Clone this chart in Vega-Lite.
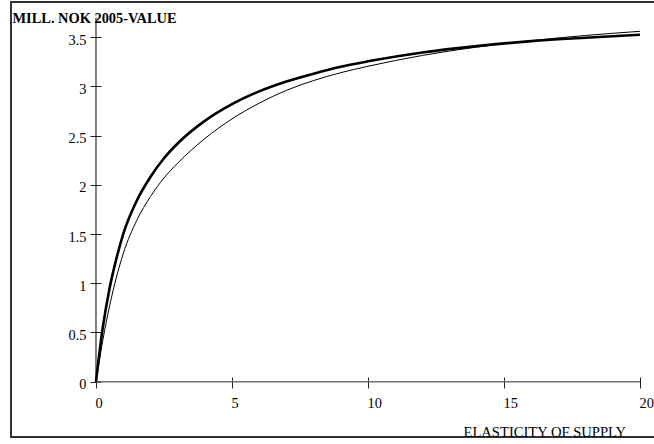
{
  "$schema": "https://vega.github.io/schema/vega-lite/v6.json",
  "width": 644,
  "height": 435,
  "autosize": {"type": "none"},
  "padding": {"left": 11, "top": 2, "right": -1, "bottom": 7},
  "background": "white",
  "config": {
    "view": {"stroke": "#333333", "strokeWidth": 2},
    "font": "Liberation Serif"
  },
  "datasets": {
    "curves": [
      {"x": 0, "y": 0, "s": "thick"},
      {"x": 0.25, "y": 0.55, "s": "thick"},
      {"x": 0.5, "y": 0.95, "s": "thick"},
      {"x": 0.75, "y": 1.25, "s": "thick"},
      {"x": 1, "y": 1.5, "s": "thick"},
      {"x": 1.5, "y": 1.84, "s": "thick"},
      {"x": 2, "y": 2.08, "s": "thick"},
      {"x": 2.5, "y": 2.27, "s": "thick"},
      {"x": 3, "y": 2.42, "s": "thick"},
      {"x": 4, "y": 2.65, "s": "thick"},
      {"x": 5, "y": 2.82, "s": "thick"},
      {"x": 6, "y": 2.95, "s": "thick"},
      {"x": 7, "y": 3.05, "s": "thick"},
      {"x": 8, "y": 3.13, "s": "thick"},
      {"x": 9, "y": 3.2, "s": "thick"},
      {"x": 10, "y": 3.255, "s": "thick"},
      {"x": 12, "y": 3.345, "s": "thick"},
      {"x": 14, "y": 3.41, "s": "thick"},
      {"x": 16, "y": 3.46, "s": "thick"},
      {"x": 18, "y": 3.495, "s": "thick"},
      {"x": 20, "y": 3.525, "s": "thick"},
      {"x": 0, "y": 0, "s": "thin"},
      {"x": 0.25, "y": 0.42, "s": "thin"},
      {"x": 0.5, "y": 0.77, "s": "thin"},
      {"x": 0.75, "y": 1.06, "s": "thin"},
      {"x": 1, "y": 1.3, "s": "thin"},
      {"x": 1.5, "y": 1.64, "s": "thin"},
      {"x": 2, "y": 1.88, "s": "thin"},
      {"x": 2.5, "y": 2.07, "s": "thin"},
      {"x": 3, "y": 2.22, "s": "thin"},
      {"x": 4, "y": 2.47, "s": "thin"},
      {"x": 5, "y": 2.67, "s": "thin"},
      {"x": 6, "y": 2.83, "s": "thin"},
      {"x": 7, "y": 2.96, "s": "thin"},
      {"x": 8, "y": 3.06, "s": "thin"},
      {"x": 9, "y": 3.14, "s": "thin"},
      {"x": 10, "y": 3.205, "s": "thin"},
      {"x": 12, "y": 3.315, "s": "thin"},
      {"x": 14, "y": 3.4, "s": "thin"},
      {"x": 16, "y": 3.465, "s": "thin"},
      {"x": 18, "y": 3.518, "s": "thin"},
      {"x": 20, "y": 3.56, "s": "thin"}
    ],
    "xline": [{"x": 0, "x2": 20, "y": 0}],
    "yline": [{"x": 0, "y": 0, "y2": 3.7}]
  },
  "encoding": {
    "x": {"field": "x", "type": "quantitative", "scale": {"domain": [-3.125, 20.5518], "nice": false, "zero": false},
      "axis": {
        "orient": "bottom", "offset": -60, "values": [0, 5, 10, 15, 20], "format": "d",
        "domain": false, "grid": false, "ticks": true, "tickSize": 11, "tickColor": "#222222", "tickWidth": 1,
        "labelAlign": "left", "labelOffset": -1, "labelPadding": 8, "labelBaseline": "top",
        "labelFont": "Liberation Serif", "labelFontSize": 14.4, "labelColor": "black",
        "labelFlush": false, "labelOverlap": false, "labelBound": false,
        "title": "ELASTICITY OF SUPPLY", "titleFont": "Liberation Serif", "titleFontSize": 14.6,
        "titleFontWeight": "normal", "titleColor": "black", "titleX": 452, "titleY": 59,
        "titleAlign": "left", "titleBaseline": "alphabetic"
      }},
    "y": {"field": "y", "type": "quantitative", "scale": {"domain": [-0.562, 3.858], "nice": false, "zero": false},
      "axis": {
        "orient": "left", "offset": -90, "values": [0, 0.5, 1, 1.5, 2, 2.5, 3, 3.5], "format": "~g",
        "domain": false, "grid": false, "ticks": true, "tickSize": 11, "tickColor": "#222222", "tickWidth": 1,
        "labelAlign": "right", "labelPadding": 4, "labelBaseline": "middle", "labelOffset": 3,
        "labelFont": "Liberation Serif", "labelFontSize": 14.4, "labelColor": "black",
        "labelFlush": false, "labelOverlap": false, "labelBound": false,
        "title": "MILL. NOK 2005-VALUE", "titleFont": "Liberation Serif", "titleFontSize": 14.4,
        "titleFontWeight": "bold", "titleColor": "black", "titleAngle": 0, "titleX": -89, "titleY": 20.7,
        "titleAlign": "left", "titleBaseline": "alphabetic"
      }}
  },
  "layer": [
    {
      "data": {"name": "xline"},
      "mark": {"type": "rule", "color": "#707070", "strokeWidth": 1.5},
      "encoding": {"x2": {"field": "x2"}}
    },
    {
      "data": {"name": "yline"},
      "mark": {"type": "rule", "color": "black", "strokeWidth": 1},
      "encoding": {"y2": {"field": "y2"}}
    },
    {
      "data": {"name": "curves"},
      "mark": {"type": "line", "color": "black", "interpolate": "monotone"},
      "encoding": {
        "detail": {"field": "s"},
        "strokeWidth": {"field": "s", "type": "nominal", "scale": {"domain": ["thick", "thin"], "range": [2.6, 1]}, "legend": null}
      }
    }
  ]
}
